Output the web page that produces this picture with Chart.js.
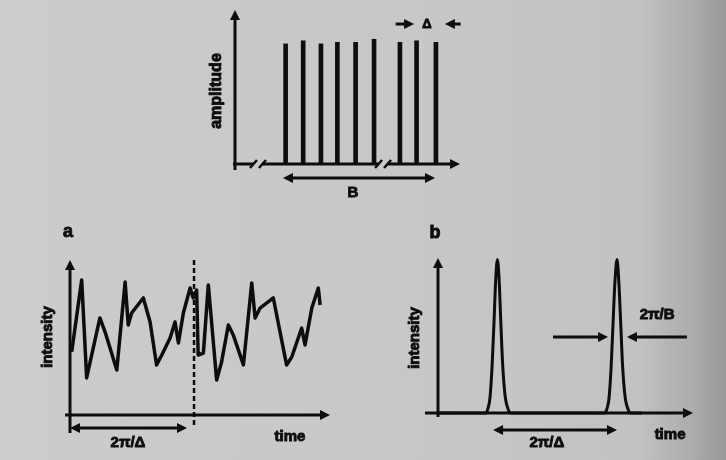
<!DOCTYPE html>
<html>
<head>
<meta charset="utf-8">
<script src="https://cdn.jsdelivr.net/npm/chart.js@4/dist/chart.umd.min.js"></script>
<style>
  html, body { margin: 0; padding: 0; }
  #page {
    position: relative; width: 726px; height: 460px; overflow: hidden;
    background: linear-gradient(to right, #cccccc 0%, #c7c7c7 60%, #c2c2c2 88%, #adadad 95%, #999999 100%);
  }
  canvas { position: absolute; }
</style>
</head>
<body>
<div id="page">
  <canvas id="comb"  width="290" height="205" style="left:190px;top:0"></canvas>
  <canvas id="panelA" width="320" height="240" style="left:30px;top:220px"></canvas>
  <canvas id="panelB" width="320" height="240" style="left:400px;top:220px"></canvas>
</div>
<script>
// top: comb of modes (frequency, amplitude)
const combFreq = [22.5, 30.3, 38.2, 45.5, 53.6, 61.8, 73.3, 80.7, 89.3];
const combAmp  = [78, 80, 78, 79, 79, 81, 79, 80, 79];
const axisBreaks = [10.2, 65.8];

// a: random phases -> noisy intensity
const aTime = [0.65, 4.5, 6.4, 11.5, 13.5, 18.0, 21.2, 22.4, 23.7, 28.2, 30.8, 33.3, 35.3, 38.5,
               40.4, 41.7, 43.6, 46.2, 47.4, 48.7, 49.3, 51.3, 53.2, 56.4, 58.3, 60.9, 62.8, 66.7,
               69.9, 71.2, 73.1, 78.2, 80.8, 83.3, 85.3, 89.1, 90.4, 93.0, 95.5, 96.2];
const aIntensity = [40.8, 87.1, 23.9, 62.6, 53.5, 29.0, 85.8, 58.1, 65.8, 75.5, 60.0, 32.3, 38.7, 49.7,
                    60.0, 46.5, 65.8, 81.9, 75.5, 80.6, 38.7, 40.0, 83.9, 22.6, 34.2, 58.1, 51.6, 32.3,
                    85.2, 62.6, 69.0, 75.5, 53.5, 32.3, 37.4, 56.1, 45.2, 69.0, 81.9, 71.0];
const aPeriodMark = 47.7;

// b: locked phases -> pulse train
const bTime = [0, 18.8, 19.6, 20.4, 21.2, 22.0, 22.6, 23.3, 24.0, 24.6, 25.4, 26.4, 27.4, 28.4,
               65.4, 66.3, 67.1, 67.9, 68.7, 69.4, 70.2, 70.9, 71.6, 72.4, 73.4, 74.4, 75.5, 80];
const bIntensity = [0, 0, 3, 10, 30, 60, 85, 99, 85, 60, 30, 10, 3, 0,
                    0, 3, 10, 30, 60, 85, 99, 85, 60, 30, 10, 3, 0, 0];

const INK = '#0d0d0d';
const FONT = "bold 15px 'Liberation Sans', Arial, sans-serif";

function head(ctx, x, y, ux, uy, len, half) {
  ctx.beginPath();
  ctx.moveTo(x, y);
  ctx.lineTo(x - ux * len - uy * half, y - uy * len + ux * half);
  ctx.lineTo(x - ux * len + uy * half, y - uy * len - ux * half);
  ctx.closePath();
  ctx.fill();
}

function arrow(ctx, x1, y1, x2, y2, o = {}) {
  const w = o.width ?? 3, len = o.len ?? 10, half = o.half ?? 5;
  const both = o.both ?? false;
  const L = Math.hypot(x2 - x1, y2 - y1), ux = (x2 - x1) / L, uy = (y2 - y1) / L;
  ctx.save();
  ctx.strokeStyle = INK; ctx.fillStyle = INK; ctx.lineWidth = w;
  ctx.beginPath();
  ctx.moveTo(x1 + (both ? ux * len * 0.7 : 0), y1 + (both ? uy * len * 0.7 : 0));
  ctx.lineTo(x2 - ux * len * 0.7, y2 - uy * len * 0.7);
  ctx.stroke();
  head(ctx, x2, y2, ux, uy, len, half);
  if (both) head(ctx, x1, y1, -ux, -uy, len, half);
  ctx.restore();
}

function line(ctx, x1, y1, x2, y2, w = 3, dash = []) {
  ctx.save();
  ctx.strokeStyle = INK; ctx.lineWidth = w; ctx.setLineDash(dash);
  ctx.beginPath(); ctx.moveTo(x1, y1); ctx.lineTo(x2, y2); ctx.stroke();
  ctx.restore();
}

function label(ctx, text, x, y, font = FONT, rot = 0) {
  ctx.save();
  ctx.fillStyle = INK; ctx.strokeStyle = INK; ctx.lineWidth = 0.9; ctx.font = font;
  ctx.textAlign = 'center'; ctx.textBaseline = 'middle';
  ctx.translate(x, y); ctx.rotate(rot);
  ctx.fillText(text, 0, 0);
  ctx.strokeText(text, 0, 0);
  ctx.restore();
}

function baseOptions(padding) {
  return {
    responsive: false,
    animation: false,
    devicePixelRatio: 1,
    layout: { padding },
    plugins: { legend: { display: false }, tooltip: { enabled: false } },
    scales: {
      x: { type: 'linear', min: 0, max: 100, offset: false, display: false },
      y: { type: 'linear', min: 0, max: 100, display: false },
    },
  };
}

function pixels(chart) {
  const { x, y } = chart.scales;
  return [v => x.getPixelForValue(v), v => y.getPixelForValue(v)];
}

// top panel
new Chart(document.getElementById('comb'), {
  type: 'bar',
  data: {
    datasets: [{
      data: combFreq.map((f, i) => ({ x: f, y: combAmp[i] })),
      backgroundColor: INK,
      barThickness: 4,
    }],
  },
  options: baseOptions({ left: 45, right: 20, top: 10, bottom: 41 }),
  plugins: [{
    id: 'combDecor',
    afterDraw(chart) {
      const ctx = chart.ctx;
      const [px, py] = pixels(chart);
      const y0 = py(0);
      arrow(ctx, px(0), py(-3.9), px(0), py(100));
      // x axis with breaks
      const b1 = px(axisBreaks[0]), b2 = px(axisBreaks[1]);
      line(ctx, px(-0.9), y0, b1 - 4, y0);
      line(ctx, b1 + 4, y0, b2 - 4, y0);
      arrow(ctx, b2 + 4, y0, px(100), y0);
      for (const b of [b1, b2]) {
        line(ctx, b - 8, y0 + 4, b - 1, y0 - 4, 2.5);
        line(ctx, b + 1, y0 + 4, b + 8, y0 - 4, 2.5);
      }
      // mode spacing
      arrow(ctx, px(71.4), py(90.9), px(79.6), py(90.9));
      label(ctx, 'Δ', px(85.3), py(90.9), "bold 13px 'Liberation Sans', Arial, sans-serif");
      arrow(ctx, px(100.3), py(90.9), px(93.3), py(90.9));
      // bandwidth
      arrow(ctx, px(21.3), py(-9.1), px(88.9), py(-9.1), { both: true });
      label(ctx, 'B', px(52.4), py(-18.8));
      label(ctx, 'amplitude', px(-8), py(47.4), "bold 16px 'Liberation Sans', Arial, sans-serif", -Math.PI / 2);
    },
  }],
});

// panel a
new Chart(document.getElementById('panelA'), {
  type: 'line',
  data: {
    datasets: [{
      data: aTime.map((t, i) => ({ x: t, y: aIntensity[i] })),
      borderColor: INK,
      borderWidth: 3.5,
      borderJoinStyle: 'round',
      pointRadius: 0,
      tension: 0,
      clip: false,
    }],
  },
  options: baseOptions({ left: 40, right: 20, top: 40, bottom: 45 }),
  plugins: [{
    id: 'aDecor',
    afterDraw(chart) {
      const ctx = chart.ctx;
      const [px, py] = pixels(chart);
      arrow(ctx, px(0), py(-11.6), px(0), py(100));
      arrow(ctx, px(-1.9), py(0), px(100), py(0));
      line(ctx, px(aPeriodMark), py(100), px(aPeriodMark), py(-8.4), 2.5, [5, 3]);
      arrow(ctx, px(0), py(-8.4), px(45), py(-8.4), { both: true });
      label(ctx, '2π/Δ', px(22.3), py(-18));
      label(ctx, 'time', px(84.6), py(-14.2));
      label(ctx, 'intensity', px(-8.5), py(50.3), FONT, -Math.PI / 2);
      label(ctx, 'a', px(-0.8), py(118), "bold 18px 'Liberation Sans', Arial, sans-serif");
    },
  }],
});

// panel b
new Chart(document.getElementById('panelB'), {
  type: 'line',
  data: {
    datasets: [{
      data: bTime.map((t, i) => ({ x: t, y: bIntensity[i] })),
      borderColor: INK,
      borderWidth: 3,
      pointRadius: 0,
      cubicInterpolationMode: 'monotone',
      clip: false,
    }],
  },
  options: baseOptions({ left: 38, right: 27, top: 38, bottom: 47 }),
  plugins: [{
    id: 'bDecor',
    afterDraw(chart) {
      const ctx = chart.ctx;
      const [px, py] = pixels(chart);
      arrow(ctx, px(0), py(-2.6), px(0), py(100));
      arrow(ctx, px(-5.1), py(0), px(100), py(0));
      arrow(ctx, px(21.6), py(-11), px(70.2), py(-11), { both: true });
      arrow(ctx, px(45.1), py(49), px(66.7), py(49));
      arrow(ctx, px(97.6), py(49), px(74.1), py(49));
      label(ctx, '2π/B', px(85.9), py(63.2));
      label(ctx, '2π/Δ', px(42.7), py(-19.4));
      label(ctx, 'time', px(91), py(-14.2));
      label(ctx, 'intensity', px(-9), py(48.4), FONT, -Math.PI / 2);
      label(ctx, 'b', px(-1.2), py(116), "bold 18px 'Liberation Sans', Arial, sans-serif");
    },
  }],
});
</script>
</body>
</html>
